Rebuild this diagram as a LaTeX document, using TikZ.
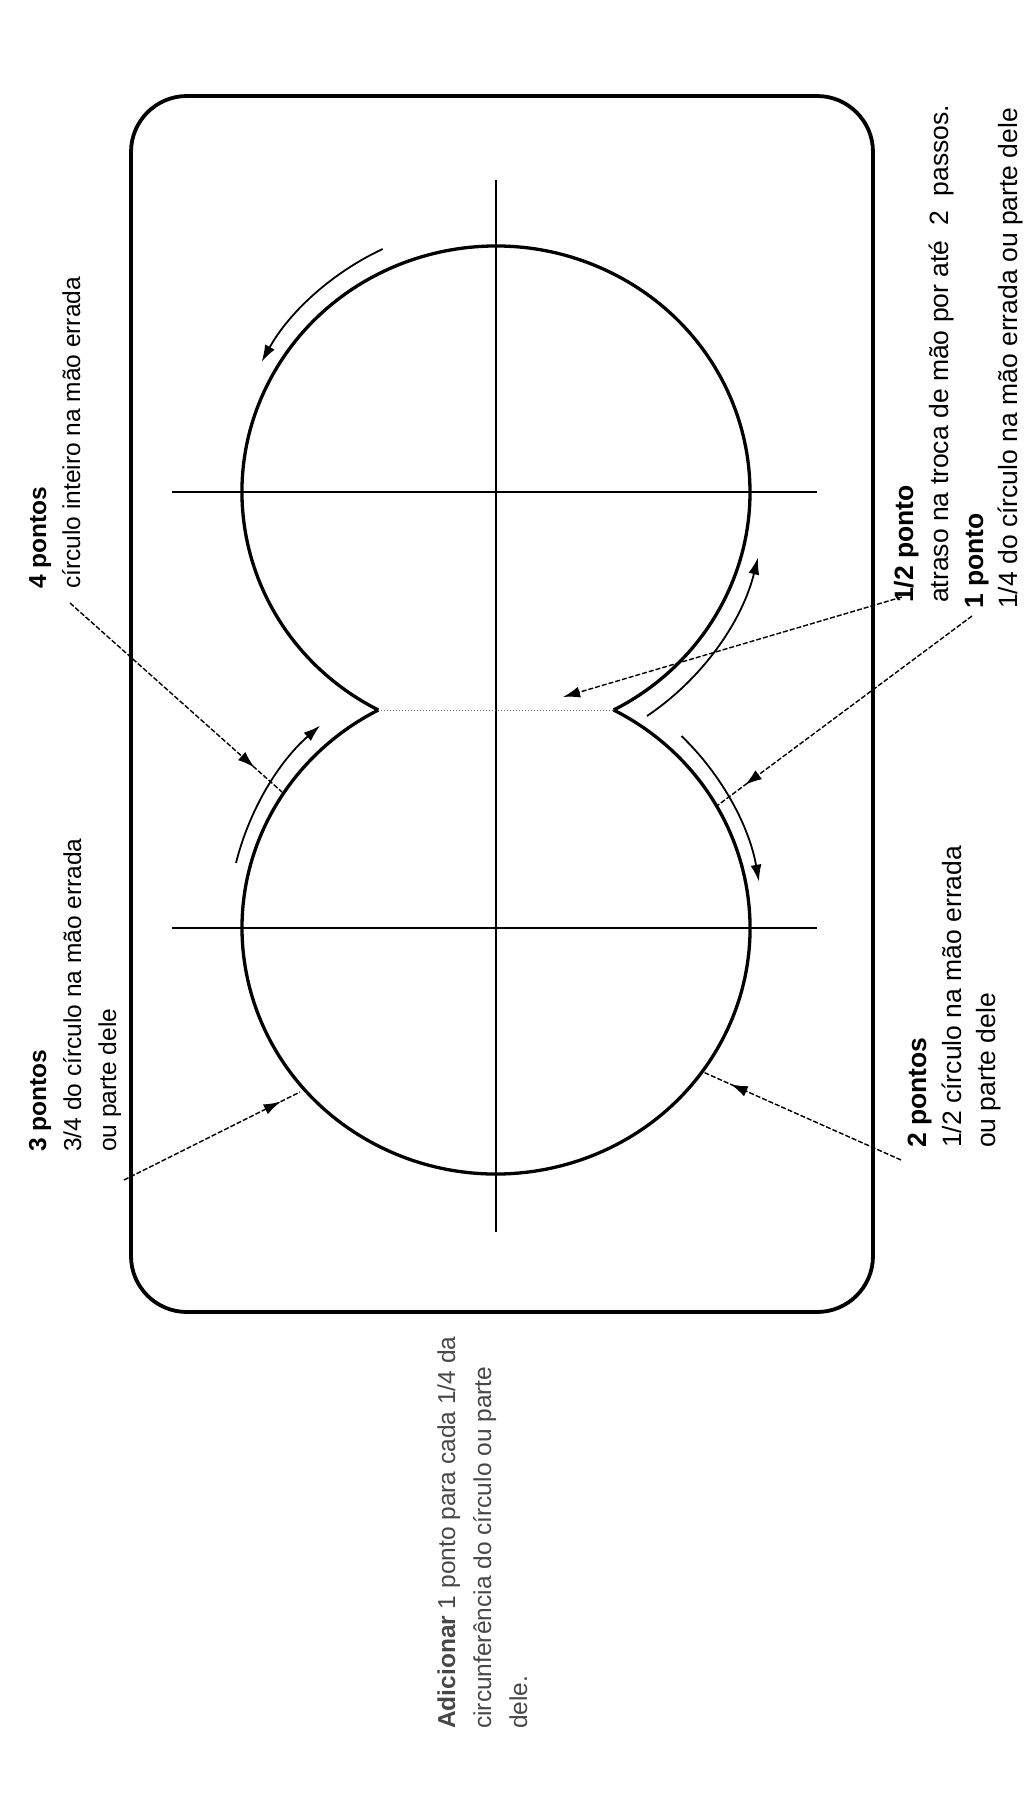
\documentclass[tikz,border=0pt]{standalone}
\usepackage{fontspec}
\setmainfont{Liberation Sans}
\usetikzlibrary{arrows.meta,decorations.markings}
\begin{document}
\begin{tikzpicture}[x=1pt,y=-1pt,
  frame/.style={line width=3.8pt, rounded corners=56pt},
  curve/.style={line width=3.3pt},
  axis/.style={line width=2.7pt},
  motion/.style={line width=1.8pt, -{Latex[length=17pt,width=11pt]}},
  ptr/.style={line width=1.4pt, dash pattern=on 5pt off 2pt,
    postaction={decorate},
    decoration={markings, mark=at position #1 with {\arrow{Latex[length=17pt,width=11pt]}}}},
  ptrend/.style={line width=1.4pt, dash pattern=on 5pt off 2pt, -{Latex[length=17pt,width=11pt]}},
  lbl/.style={rotate=90, anchor=base west, inner sep=0pt, font=\fontsize{24.5}{30}\selectfont},
  hd/.style={lbl, font=\fontsize{24.5}{30}\selectfont\bfseries},
  lblr/.style={lbl, font=\fontsize{26.5}{30}\selectfont},
  hdr/.style={lbl, font=\fontsize{26.5}{30}\selectfont\bfseries},
  note/.style={lbl, text=black!72, font=\fontsize{24.5}{30}\selectfont}]
\useasboundingbox (0,0) rectangle (1024,1807);

% frame
\draw[frame] (131,96) rectangle (873,1312);

% axes
\coordinate (vtop) at (496,180);
\coordinate (vbot) at (496,1232);
\coordinate (h1l) at (172,492);
\coordinate (h1r) at (817,492);
\coordinate (h2l) at (172,928);
\coordinate (h2r) at (817,928);
\draw[axis] (vtop) -- (vbot);
\draw[axis] (h1l) -- (h1r);
\draw[axis] (h2l) -- (h2r);

% figure eight
\coordinate (cl) at (378.3,710);
\coordinate (cr) at (613.7,710);
\draw[curve] (cl) arc[start angle=117.6, end angle=422.4, x radius=254, y radius=246];
\draw[curve] (cr) arc[start angle=-62.4, end angle=242.4, x radius=254, y radius=246];
\draw[line width=1pt, dotted, black!60] (cl) -- (cr);

% motion arrows
\draw[motion] (382.7,249) arc[start angle=-115, end angle=-151, radius=268];
\draw[motion] (236,863) arc[start angle=-166, end angle=-131, radius=268];
\draw[motion] (647,716) arc[start angle=56, end angle=14, radius=270];
\draw[motion] (681.5,736) arc[start angle=-46, end angle=-10, radius=267];

% labels
\node[hd]  (t4a) at (46,589) {4 pontos};
\node[lbl] (t4b) at (80,589) {círculo inteiro na mão errada};
\node[hd]  (t3a) at (46,1152) {3 pontos};
\node[lbl] (t3b) at (81,1152) {3/4 do círculo na mão errada};
\node[lbl] (t3c) at (116,1152) {ou parte dele};
\node[hdr]  (t2a) at (926,1148) {2 pontos};
\node[lblr] (t2b) at (961,1148) {1/2 círculo na mão errada};
\node[lblr] (t2c) at (995,1148) {ou parte dele};
\node[hdr]  (tha) at (913,603) {1/2 ponto};
\node[lblr] (thb) at (948,603) {atraso na troca de mão por até\ \ 2\ \ passos.};
\node[hdr]  (t1a) at (983,609) {1 ponto};
\node[lblr] (t1b) at (1017,609) {1/4 do círculo na mão errada ou parte dele};
\node[note] (ad1) at (455,1729) {\textbf{Adicionar} 1 ponto para cada 1/4 da};
\node[note] (ad2) at (491,1729) {circunferência do círculo ou parte};
\node[note] (ad3) at (527,1729) {dele.};

% pointers
\coordinate (p4s) at (70,603);   \coordinate (p4e) at (282,792);
\coordinate (p3s) at (124,1180); \coordinate (p3e) at (300,1092);
\coordinate (p2s) at (901,1160); \coordinate (p2e) at (703,1072);
\coordinate (p1s) at (972,616);  \coordinate (p1e) at (714,808);
\coordinate (phs) at (902,597);  \coordinate (phe) at (563,697);
\draw[ptr=0.87] (p4s) -- (p4e);
\draw[ptr=0.89] (p3s) -- (p3e);
\draw[ptr=0.86] (p2s) -- (p2e);
\draw[ptr=0.88] (p1s) -- (p1e);
\draw[ptrend] (phs) -- (phe);
\end{tikzpicture}
\end{document}
